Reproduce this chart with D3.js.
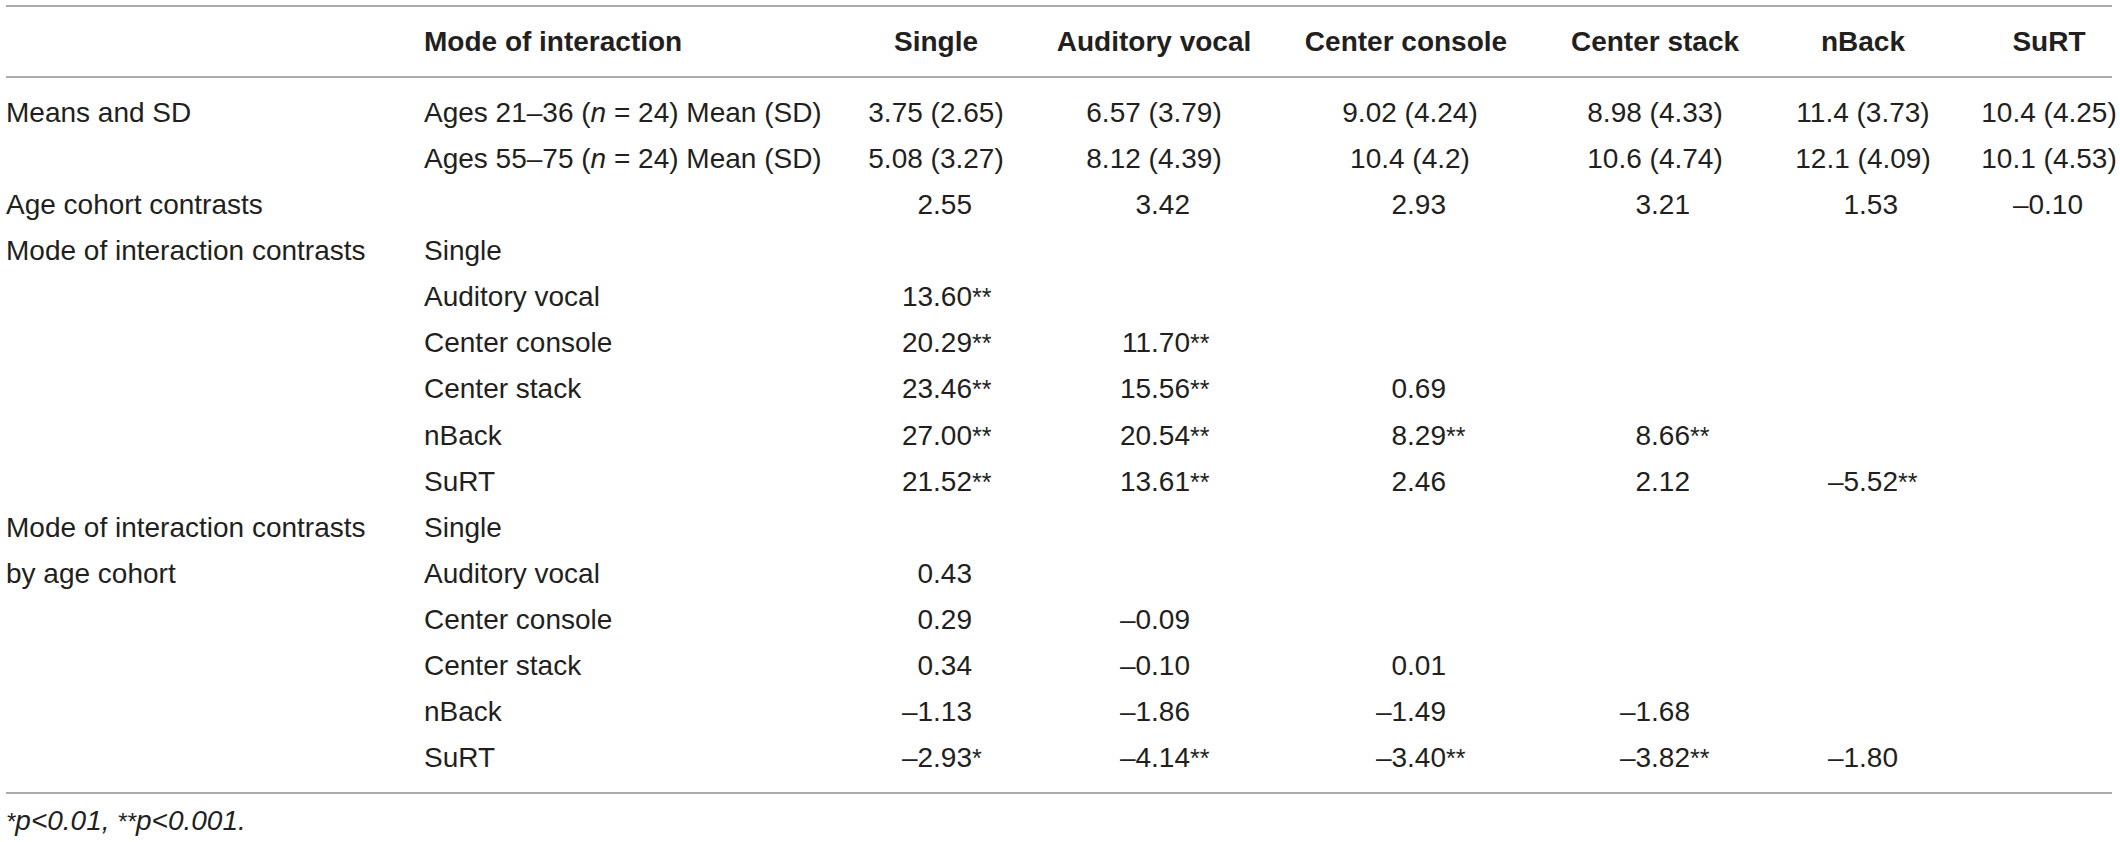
<!DOCTYPE html>
<html>
<head>
<meta charset="utf-8">
<script src="https://cdn.jsdelivr.net/npm/d3@7"></script>
<style>
  body { margin: 0; background: #fff; }
  svg { display: block; }
  text { font-family: "Liberation Sans", Arial, Helvetica, sans-serif; fill: #231f20; }
</style>
</head>
<body>
<svg id="tbl" width="2120" height="842"></svg>
<script>
// columns of the table
const modes = ["Single", "Auditory vocal", "Center console", "Center stack", "nBack", "SuRT"];
// means and SD per age cohort
const youngMean = [3.75, 6.57, 9.02, 8.98, 11.4, 10.4];
const youngSD   = [2.65, 3.79, 4.24, 4.33, 3.73, 4.25];
const oldMean   = [5.08, 8.12, 10.4, 10.6, 12.1, 10.1];
const oldSD     = [3.27, 4.39, 4.2, 4.74, 4.09, 4.53];
// age cohort contrasts
const ageContrast = [2.55, 3.42, 2.93, 3.21, 1.53, -0.10];
// mode of interaction contrasts (lower triangle), stars = significance
const modeContrast = [[], [13.60], [20.29, 11.70], [23.46, 15.56, 0.69], [27.00, 20.54, 8.29, 8.66], [21.52, 13.61, 2.46, 2.12, -5.52]];
const modeStars    = [[], [2], [2, 2], [2, 2, 0], [2, 2, 2, 2], [2, 2, 0, 0, 2]];
// mode of interaction contrasts by age cohort
const ageModeContrast = [[], [0.43], [0.29, -0.09], [0.34, -0.10, 0.01], [-1.13, -1.86, -1.49, -1.68], [-2.93, -4.14, -3.40, -3.82, -1.80]];
const ageModeStars    = [[], [0], [0, 0], [0, 0, 0], [0, 0, 0, 0], [1, 2, 2, 2, 0]];

const svg = d3.select("#tbl");
const fs = 28;
const nRows = 15;

// row positions (text middle)
const y = d3.scaleLinear().domain([0, nRows - 1]).range([112, 757]);
// column centres (header, means) and right edges for number cells
const colMid = d3.scaleOrdinal().domain(modes).range([936, 1154, 1406, 1655, 1863, 2049]);
const meanMid = d3.scaleOrdinal().domain(modes).range([936, 1154, 1410, 1655, 1863, 2049]);
const colRight = d3.scaleOrdinal().domain(modes).range([972, 1190, 1446, 1690, 1898, 2083]);
const col1 = 6, col2 = 424;
const base = 10; // baseline shift from row middle

const fmtMean = d3.format(".3~");
const fmtC = d3.format(".2f");
const fmtNum = v => fmtC(v).replace("−", "–").replace("-", "–");

// rules
const rules = [6, 77, 793];
svg.selectAll("line.rule").data(rules).enter().append("line")
  .attr("class", "rule")
  .attr("x1", 6).attr("x2", 2112)
  .attr("y1", d => d).attr("y2", d => d)
  .style("stroke", "#ababab").style("stroke-width", 2);

// header
const head = svg.append("g").style("font-weight", "bold").style("font-size", fs + "px");
head.append("text").attr("x", col2).attr("y", 51).text("Mode of interaction");
head.selectAll("text.h").data(modes).enter().append("text")
  .attr("class", "h")
  .attr("x", d => colMid(d)).attr("y", 51)
  .attr("text-anchor", "middle").text(d => d);

const body = svg.append("g").style("font-size", fs + "px");

// first column labels
const leftLabels = [
  { r: 0, t: "Means and SD" },
  { r: 2, t: "Age cohort contrasts" },
  { r: 3, t: "Mode of interaction contrasts" },
  { r: 9, t: "Mode of interaction contrasts" },
  { r: 10, t: "by age cohort" }
];
body.selectAll("text.l1").data(leftLabels).enter().append("text")
  .attr("class", "l1").attr("x", col1).attr("y", d => y(d.r) + base).text(d => d.t);

// second column: cohort labels
[["21–36", 0], ["55–75", 1]].forEach(([ages, r]) => {
  const t = body.append("text").attr("x", col2).attr("y", y(r) + base);
  t.append("tspan").text("Ages " + ages + " (");
  t.append("tspan").style("font-style", "italic").text("n");
  t.append("tspan").text(" = 24) Mean (SD)");
});
// second column: mode names for the contrast blocks
[3, 9].forEach(start => {
  body.selectAll(null).data(modes).enter().append("text")
    .attr("x", col2).attr("y", (d, i) => y(start + i) + base).text(d => d);
});

// means
[[youngMean, youngSD, 0], [oldMean, oldSD, 1]].forEach(([m, s, r]) => {
  body.selectAll(null).data(modes).enter().append("text")
    .attr("x", d => meanMid(d)).attr("y", y(r) + base)
    .attr("text-anchor", "middle")
    .text((d, i) => fmtMean(m[i]) + " (" + fmtMean(s[i]) + ")");
});

// a number cell: digits end at the column edge, stars hang after
function numCell(g, value, stars, mode, row) {
  const t = g.append("text").attr("y", y(row) + base);
  t.append("tspan").text(fmtNum(value));
  if (stars > 0) {
    t.append("tspan").style("font-size", "25px").text("*".repeat(stars));
  }
  const w = t.select("tspan").node().getComputedTextLength();
  t.attr("x", colRight(mode) - w);
}

ageContrast.forEach((v, i) => numCell(body, v, 0, modes[i], 2));
modeContrast.forEach((row, r) => row.forEach((v, c) => numCell(body, v, modeStars[r][c], modes[c], 3 + r)));
ageModeContrast.forEach((row, r) => row.forEach((v, c) => numCell(body, v, ageModeStars[r][c], modes[c], 9 + r)));

// footnote
const foot = svg.append("text").attr("x", col1).attr("y", 830)
  .style("font-size", fs + "px").style("font-style", "italic");
foot.append("tspan").style("font-size", "24px").text("*");
foot.append("tspan").text("p<0.01, ");
foot.append("tspan").style("font-size", "24px").text("**");
foot.append("tspan").text("p<0.001.");
</script>
</body>
</html>
